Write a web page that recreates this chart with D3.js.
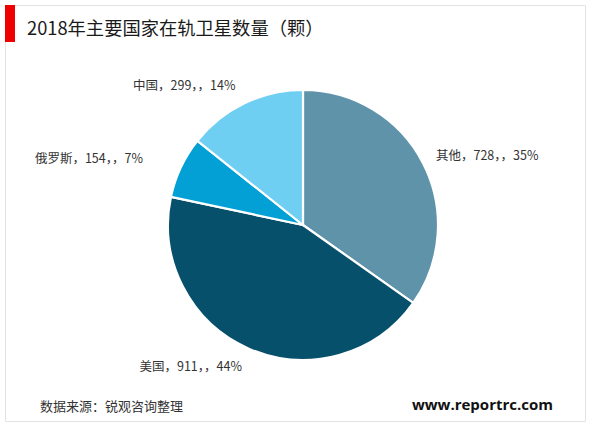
<!DOCTYPE html>
<html><head><meta charset="utf-8">
<script src="https://cdn.jsdelivr.net/npm/d3@7"></script>
<style>body{margin:0;background:#fff}svg{display:block;font-family:"Noto Sans CJK SC","Noto Sans",sans-serif}</style>
</head><body>
<svg id="c" width="600" height="430"></svg>
<script>
const categories = ["其他", "美国", "俄罗斯", "中国"];
const values = [728, 911, 154, 299];
const percents = ["35%", "44%", "7%", "14%"];
const colors = ["#5e93a9", "#07506b", "#02a0d5", "#6ecff3"];
const title = "2018年主要国家在轨卫星数量（颗）";
const source = "数据来源：锐观咨询整理";
const site = "www.reportrc.com";

const svg = d3.select("#c");
// frame
svg.append("path").attr("d","M15,5.5H585.5V421.5H5.5V42").attr("fill","none").attr("stroke","#e3e3e3").attr("stroke-width",1);
svg.append("rect").attr("x",5).attr("y",5).attr("width",10).attr("height",37).attr("fill","#ee0000");
svg.append("text").attr("x",27).attr("y",35).attr("font-size",18.3).attr("fill","#1a1a1a").text(title);

const cx = 303, cy = 225, r = 135;
const data = categories.map((c,i)=>({cat:c,val:values[i],pct:percents[i],col:colors[i]}));
const pie = d3.pie().value(d=>d.val).sort(null);
const arc = d3.arc().innerRadius(0).outerRadius(r);
const arcs = pie(data);
const g = svg.append("g").attr("transform",`translate(${cx},${cy})`);
g.selectAll("path").data(arcs).join("path")
  .attr("d",arc).attr("fill",d=>d.data.col).attr("stroke","#fff").attr("stroke-width",2.2);

const lr = 152;
g.selectAll("text").data(arcs).join("text")
  .each(function(d){
    const a=(d.startAngle+d.endAngle)/2;
    const s=Math.sin(a), c=Math.cos(a);
    const right = s>0;
    d3.select(this)
      .attr("x", s*lr + (right? -2 : -Math.abs(s)*45+18))
      .attr("y", -c*lr*(right?0.99:1.02))
      .attr("dy","0.35em")
      .attr("text-anchor", right?"start":"end");
  })
  .attr("font-size",12.5).attr("fill","#333")
  .text(d=>`${d.data.cat}，${d.data.val}，，${d.data.pct}`);

svg.append("text").attr("x",40).attr("y",411).attr("font-size",13).attr("fill","#333").text(source);
svg.append("text").attr("x",553).attr("y",410).attr("text-anchor","end").attr("font-size",15)
  .attr("font-weight","bold").attr("font-family","'Open Sans',sans-serif").attr("fill","#111").text(site);
</script>
</body></html>
